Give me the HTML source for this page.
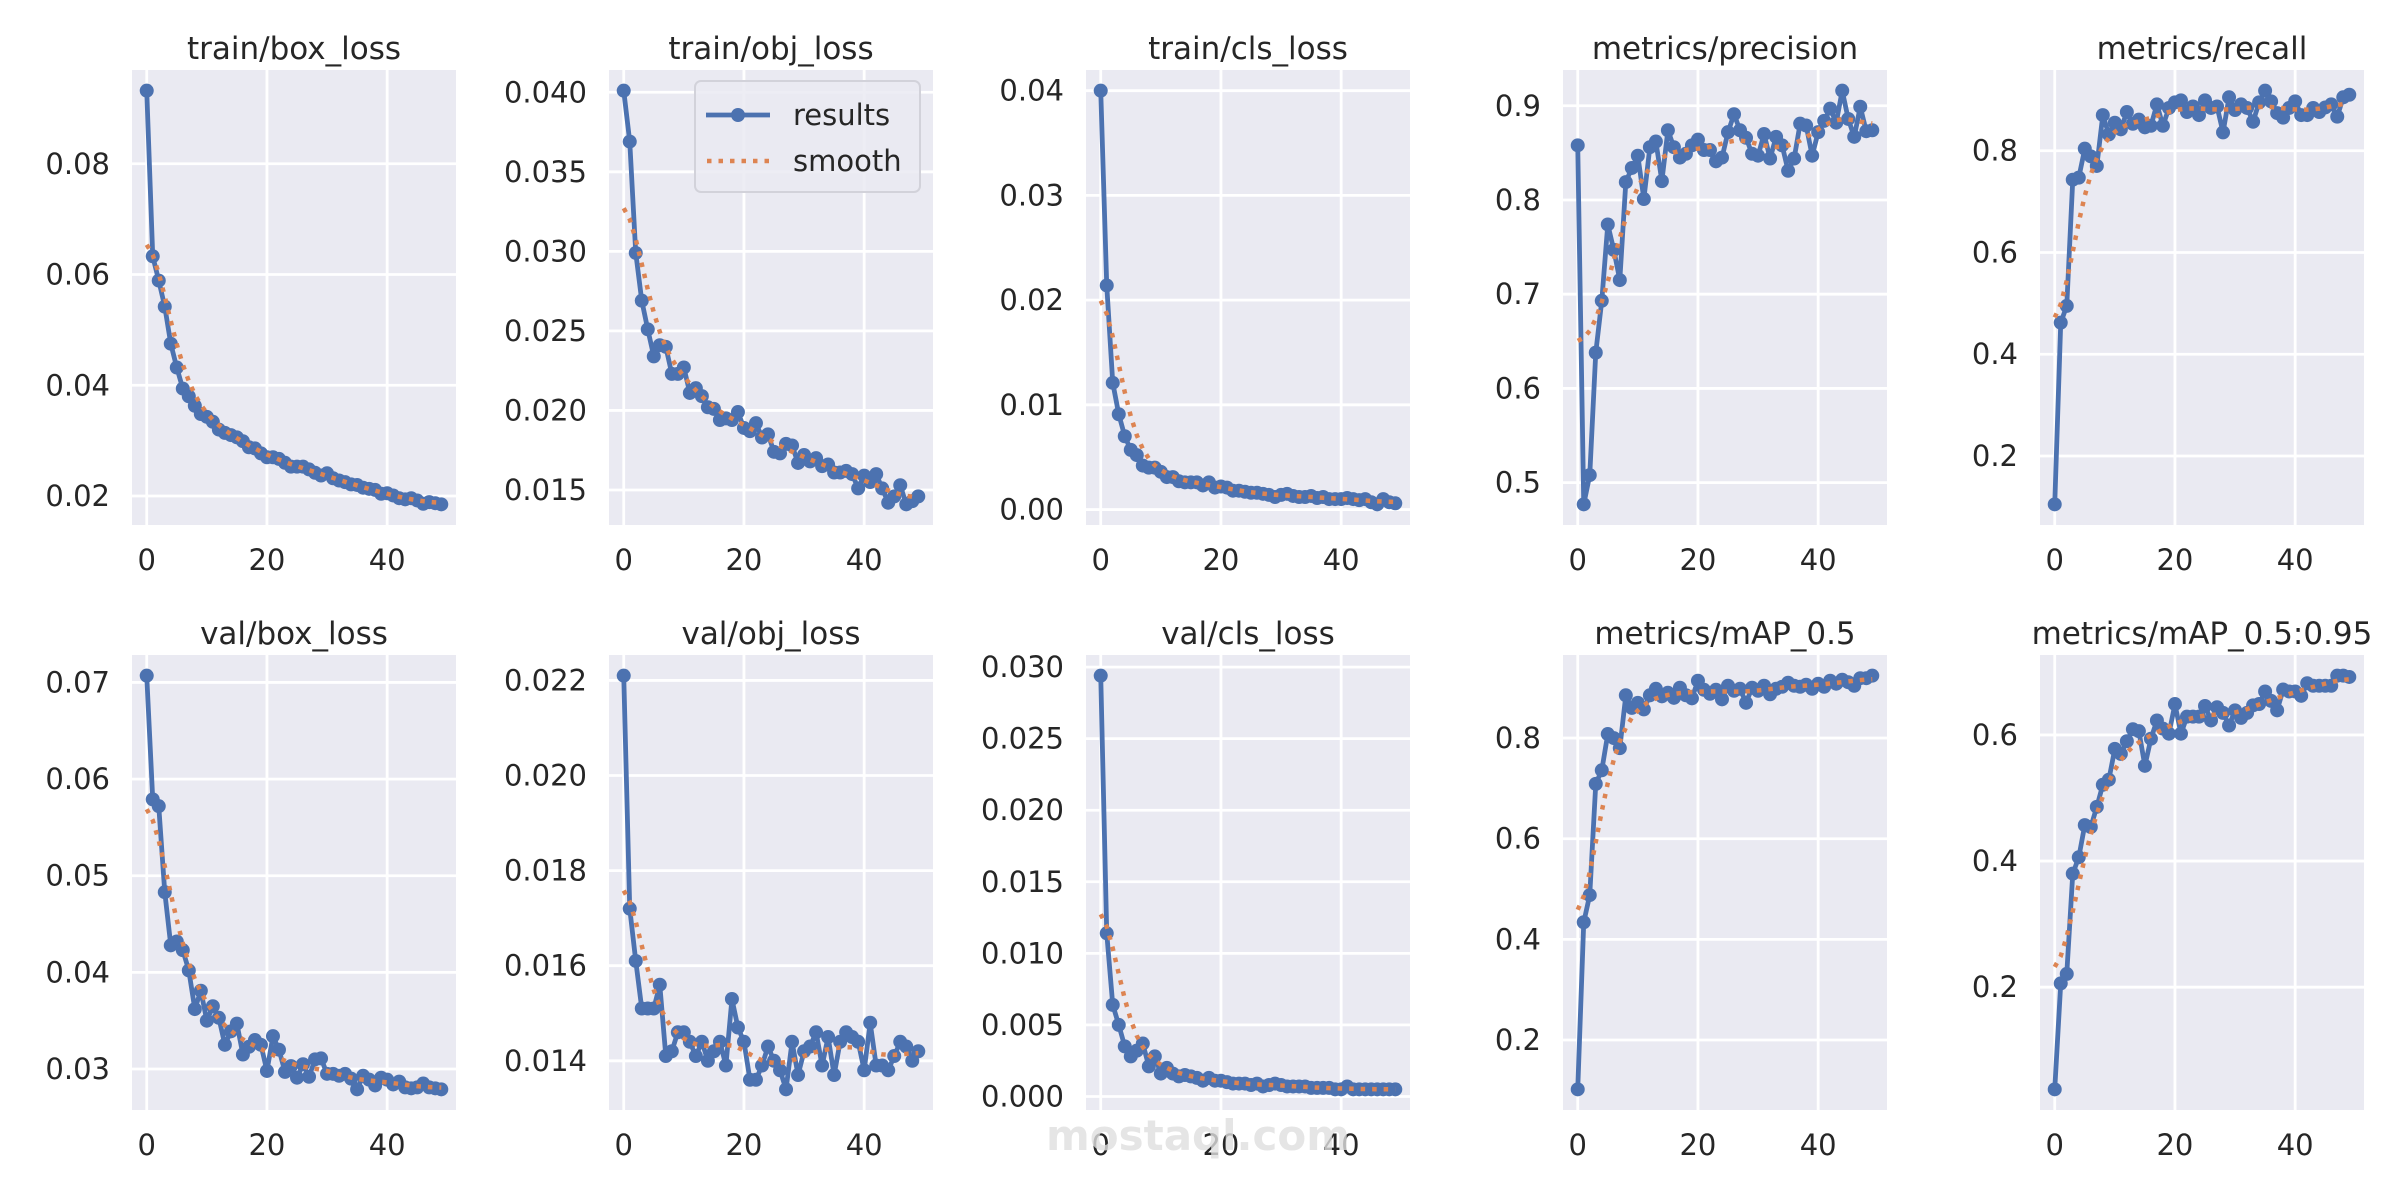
<!DOCTYPE html>
<html><head><meta charset="utf-8">
<style>
html,body{margin:0;padding:0;background:#fff;}
svg{display:block;font-family:"DejaVu Sans","Liberation Sans",sans-serif;}
</style></head>
<body>
<svg id="fig" width="2400" height="1200" viewBox="0 0 2400 1200" xmlns="http://www.w3.org/2000/svg">
<rect width="2400" height="1200" fill="#ffffff"/>
</svg>
<script>
const titles = ["train/box_loss","train/obj_loss","train/cls_loss","metrics/precision","metrics/recall","val/box_loss","val/obj_loss","val/cls_loss","metrics/mAP_0.5","metrics/mAP_0.5:0.95"];
const trainBox = [0.0932,0.0633,0.0589,0.0542,0.0475,0.0432,0.0394,0.038,0.0363,0.0348,0.0343,0.0334,0.032,0.0314,0.031,0.0306,0.0299,0.0288,0.0286,0.0277,0.027,0.027,0.0267,0.026,0.0253,0.0253,0.0253,0.0248,0.0242,0.0237,0.0241,0.0232,0.0228,0.0225,0.0221,0.022,0.0215,0.0213,0.0211,0.0204,0.0205,0.0201,0.0196,0.0194,0.0196,0.0192,0.0186,0.0189,0.0187,0.0185];
const trainObj = [0.0401,0.0369,0.0299,0.0269,0.0251,0.0234,0.0241,0.024,0.0223,0.0223,0.0227,0.0211,0.0214,0.0209,0.0202,0.0201,0.0194,0.0195,0.0194,0.0199,0.0189,0.0187,0.0192,0.0183,0.0185,0.0174,0.0173,0.0179,0.0178,0.0167,0.0172,0.0168,0.017,0.0165,0.0166,0.0161,0.0161,0.0162,0.016,0.0151,0.0159,0.0155,0.016,0.0151,0.0142,0.0146,0.0153,0.0141,0.0143,0.0146];
const trainCls = [0.040,0.0214,0.0121,0.0091,0.007,0.0057,0.0052,0.0042,0.004,0.004,0.0036,0.0031,0.0031,0.0027,0.0026,0.0026,0.0026,0.0023,0.0026,0.0021,0.0022,0.0021,0.0018,0.0018,0.0017,0.0016,0.0016,0.0015,0.0014,0.0012,0.0014,0.0015,0.0013,0.0012,0.0012,0.0013,0.0011,0.0012,0.001,0.001,0.001,0.0011,0.001,0.0009,0.001,0.0007,0.0005,0.001,0.0007,0.0006];
const precision = [0.858,0.477,0.508,0.638,0.693,0.774,0.747,0.715,0.819,0.834,0.847,0.801,0.856,0.862,0.82,0.874,0.856,0.845,0.849,0.858,0.864,0.853,0.853,0.841,0.845,0.872,0.891,0.874,0.866,0.849,0.847,0.87,0.844,0.867,0.858,0.831,0.844,0.881,0.879,0.847,0.872,0.884,0.897,0.882,0.916,0.886,0.867,0.899,0.873,0.874];
const recall = [0.105,0.462,0.495,0.743,0.747,0.804,0.789,0.77,0.87,0.832,0.855,0.842,0.876,0.853,0.861,0.846,0.849,0.891,0.849,0.884,0.895,0.899,0.876,0.887,0.87,0.899,0.884,0.887,0.836,0.905,0.88,0.891,0.884,0.857,0.895,0.918,0.897,0.874,0.865,0.884,0.897,0.87,0.87,0.884,0.876,0.885,0.891,0.867,0.905,0.91];
const valBox = [0.0707,0.0579,0.0572,0.0483,0.0428,0.0432,0.0423,0.0402,0.0362,0.0381,0.035,0.0365,0.0353,0.0325,0.0339,0.0347,0.0315,0.0323,0.033,0.0325,0.0298,0.0334,0.032,0.0297,0.0303,0.0291,0.0305,0.0292,0.031,0.0311,0.0295,0.0295,0.0293,0.0295,0.029,0.0279,0.0293,0.0289,0.0283,0.0291,0.0289,0.0284,0.0287,0.0281,0.028,0.0281,0.0285,0.0281,0.028,0.0279];
const valObj = [0.0221,0.0172,0.0161,0.0151,0.0151,0.0151,0.0156,0.0141,0.0142,0.0146,0.0146,0.0144,0.0141,0.0144,0.014,0.0142,0.0144,0.0139,0.0153,0.0147,0.0144,0.0136,0.0136,0.0139,0.0143,0.014,0.0138,0.0134,0.0144,0.0137,0.0142,0.0143,0.0146,0.0139,0.0145,0.0137,0.0144,0.0146,0.0145,0.0144,0.0138,0.0148,0.0139,0.0139,0.0138,0.0141,0.0144,0.0143,0.014,0.0142];
const valCls = [0.0294,0.0114,0.0064,0.005,0.0035,0.0028,0.0032,0.0037,0.0021,0.0028,0.0016,0.002,0.0016,0.0014,0.0015,0.0014,0.0013,0.0011,0.0013,0.0011,0.0011,0.001,0.0009,0.0009,0.0009,0.0008,0.0009,0.0007,0.0008,0.0009,0.0008,0.0007,0.0007,0.0007,0.0007,0.0006,0.0006,0.0006,0.0006,0.0005,0.0005,0.0007,0.0005,0.0005,0.0005,0.0005,0.0005,0.0005,0.0005,0.0005];
const map50 = [0.102,0.434,0.488,0.709,0.736,0.808,0.8,0.78,0.885,0.86,0.87,0.857,0.885,0.898,0.883,0.89,0.88,0.9,0.885,0.879,0.914,0.896,0.888,0.896,0.877,0.904,0.894,0.898,0.87,0.9,0.894,0.904,0.887,0.898,0.902,0.91,0.904,0.902,0.906,0.898,0.908,0.902,0.914,0.908,0.916,0.911,0.904,0.919,0.919,0.924];
const map5095 = [0.038,0.206,0.221,0.38,0.406,0.457,0.454,0.486,0.521,0.529,0.578,0.57,0.59,0.609,0.606,0.551,0.594,0.623,0.61,0.602,0.649,0.602,0.629,0.629,0.629,0.646,0.623,0.644,0.635,0.615,0.639,0.627,0.635,0.647,0.649,0.669,0.654,0.639,0.672,0.669,0.669,0.662,0.682,0.678,0.678,0.678,0.678,0.694,0.694,0.692];
const xTicks = [0,20,40];
const yTicks = [
 ["0.02","0.04","0.06","0.08"],
 ["0.015","0.020","0.025","0.030","0.035","0.040"],
 ["0.00","0.01","0.02","0.03","0.04"],
 ["0.5","0.6","0.7","0.8","0.9"],
 ["0.2","0.4","0.6","0.8"],
 ["0.03","0.04","0.05","0.06","0.07"],
 ["0.014","0.016","0.018","0.020","0.022"],
 ["0.000","0.005","0.010","0.015","0.020","0.025","0.030"],
 ["0.2","0.4","0.6","0.8"],
 ["0.2","0.4","0.6"]
];
const series = [trainBox,trainObj,trainCls,precision,recall,valBox,valObj,valCls,map50,map5095];

const NS = "http://www.w3.org/2000/svg";
const svg = document.getElementById("fig");
const lefts = [132,609,1086,1563,2040];
const tops = [70,655];
const PW = 324, PH = 455;

function mk(tag, attrs, parent){
  const e = document.createElementNS(NS, tag);
  for (const k in attrs) e.setAttribute(k, attrs[k]);
  (parent||svg).appendChild(e);
  return e;
}
function gaussSmooth(y, sigma){
  const r = Math.round(4*sigma), w=[]; let s=0;
  for(let i=-r;i<=r;i++){const v=Math.exp(-0.5*i*i/(sigma*sigma)); w.push(v); s+=v;}
  const n=y.length;
  const idx = j => { while(j<0||j>=n){ if(j<0) j=-j-1; if(j>=n) j=2*n-j-1; } return j; };
  return y.map((_,i)=>{let a=0; for(let k=-r;k<=r;k++) a+=w[k+r]*y[idx(i+k)]; return a/s;});
}

series.forEach((ys, p) => {
  const L = lefts[p%5], T = tops[Math.floor(p/5)];
  const g = mk("g", {});
  
  
  const bg = mk("rect", {x:L, y:T, width:PW, height:PH, fill:"#eaeaf2"}, g);
  
  
  const xmin = -2.45, xmax = 51.45;
  let lo = Math.min(...ys), hi = Math.max(...ys), rg = hi-lo;
  const ymin = lo - 0.05*rg, ymax = hi + 0.05*rg;
  const sx = v => L + (v - xmin)/(xmax - xmin)*PW;
  const sy = v => T + PH - (v - ymin)/(ymax - ymin)*PH;
  xTicks.forEach(t => {
    const gl = mk("line", {x1:sx(t), x2:sx(t), y1:T, y2:T+PH, stroke:"#fff", "stroke-width":2.8}, g);
    
    
    const tl = mk("text", {x:sx(t), y:T+PH+45, "text-anchor":"middle", "font-size":29, fill:"#262626"}, g);
    tl.textContent = t;
    
    
  });
  yTicks[p].forEach(lbl => {
    const t = parseFloat(lbl);
    const gl = mk("line", {x1:L, x2:L+PW, y1:sy(t), y2:sy(t), stroke:"#fff", "stroke-width":2.8}, g);
    
    
    const tl = mk("text", {x:L-22, y:sy(t)+10, "text-anchor":"end", "font-size":29, fill:"#262626"}, g);
    tl.textContent = lbl;
    
    
  });
  const pts = ys.map((v,i)=> sx(i).toFixed(2)+","+sy(v).toFixed(2)).join(" ");
  const pl = mk("polyline", {points:pts, fill:"none", stroke:"#4c72b0", "stroke-width":4.8, "stroke-linejoin":"round"}, g);
  
  
  ys.forEach((v,i) => {
    const c = mk("circle", {cx:sx(i), cy:sy(v), r:7, fill:"#4c72b0"}, g);
    
    
  });
  const sm = gaussSmooth(ys, 3);
  const spts = sm.map((v,i)=> sx(i).toFixed(2)+","+sy(v).toFixed(2)).join(" ");
  const sl = mk("polyline", {points:spts, fill:"none", stroke:"#dd8452", "stroke-width":4.5, "stroke-dasharray":"4.5 7"}, g);
  
  
  const tt = mk("text", {x:L+PW/2, y:T-11, "text-anchor":"middle", "font-size":31, fill:"#262626"}, g);
  tt.textContent = titles[p];
  
  
});

const lg = mk("g", {});


const lbox = mk("rect", {x:695, y:81, width:225, height:111, rx:6, fill:"#eaeaf2", "fill-opacity":0.85, stroke:"#d2d2da", "stroke-width":2}, lg);


const l1 = mk("line", {x1:706, x2:770, y1:115, y2:115, stroke:"#4c72b0", "stroke-width":4.8}, lg);


const l1c = mk("circle", {cx:738, cy:115, r:7, fill:"#4c72b0"}, lg);


const t1 = mk("text", {x:793, y:125, "font-size":29, fill:"#262626"}, lg);
t1.textContent = "results";


const l2 = mk("line", {x1:707, x2:770, y1:161, y2:161, stroke:"#dd8452", "stroke-width":4.5, "stroke-dasharray":"4.5 7"}, lg);


const t2 = mk("text", {x:793, y:171, "font-size":29, fill:"#262626"}, lg);
t2.textContent = "smooth";



const wm = mk("text", {x:1198, y:1150, "text-anchor":"middle", "font-size":42, "font-weight":"bold", fill:"#dedede", "fill-opacity":0.8});
wm.textContent = "mostaql.com";


</script>
</body></html>
